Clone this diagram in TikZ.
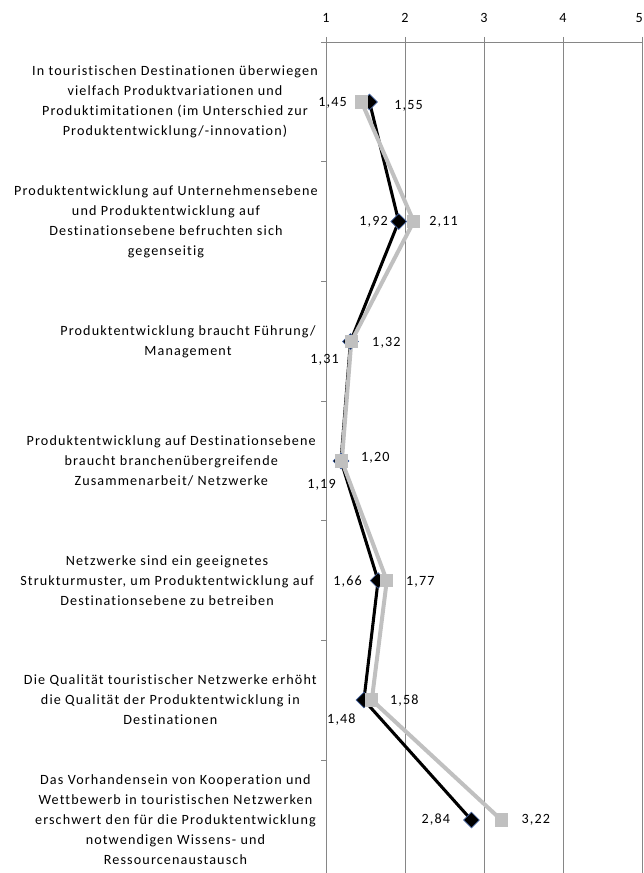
\documentclass[tikz,border=0pt]{standalone}
\usepackage{fontspec}
\setmainfont{Carlito}[LetterSpace=8, Ligatures=NoCommon]
\usepackage{xcolor}
\usepackage{tikz}
\usetikzlibrary{positioning, shapes.geometric}

\definecolor{gridgray}{RGB}{134,134,134}
\definecolor{lightseries}{RGB}{192,192,192}
\definecolor{markeredge}{RGB}{70,100,160}

\begin{document}
\begin{tikzpicture}[
    x=0.75pt, y=-0.75pt,
    grid/.style      = {draw=gridgray, line width=0.7pt},
    catlabel/.style  = {font=\fontsize{10.6}{15}\selectfont, align=center,
                        anchor=east, inner sep=0pt},
    ticklabel/.style = {font=\fontsize{10.6}{12}\selectfont, inner sep=0pt},
    dlabel/.style    = {font=\fontsize{10.6}{12}\selectfont, inner sep=0pt},
    darkline/.style  = {draw=black, line width=2.3pt, line join=round},
    lightline/.style = {draw=lightseries, line width=3pt, line join=round},
    darkmark/.style  = {diamond, fill=black, draw=markeredge, line width=0.5pt,
                        inner sep=0pt, minimum size=12pt},
    lightmark/.style = {rectangle, fill=lightseries, inner sep=0pt,
                        minimum size=10pt}
]
\useasboundingbox (0,0) rectangle (643,873);

% ========= value axis and grid =========
\draw[grid] (321,42) -- (643,42);
\foreach \x in {326, 405, 484, 563, 642}
  \draw[grid] (\x,37) -- (\x,873);
\foreach \x/\v in {326/1, 405/2, 484/3, 563/4}
  \node[ticklabel] (tick\v) at (\x,18) {\v};
\node[ticklabel, anchor=east] (tick5) at (643,18) {5};
\foreach \y in {161.8, 281.5, 401.2, 520.8, 640.5, 760.2}
  \draw[grid] (321,\y) -- (326,\y);

% ========= category labels =========
\node[catlabel] (cat1) at (318,102)
    {In touristischen Destinationen überwiegen\\vielfach Produktvariationen und\\Produktimitationen (im Unterschied zur\\Produktentwicklung/-innovation)};
\node[catlabel] (cat2) at (318,221.5)
    {Produktentwicklung auf Unternehmensebene\\und Produktentwicklung auf\\Destinationsebene befruchten sich\\gegenseitig};
\node[catlabel] (cat3) at (316,341.5)
    {Produktentwicklung braucht Führung/\\Management};
\node[catlabel] (cat4) at (316,461)
    {Produktentwicklung auf Destinationsebene\\braucht branchenübergreifende\\Zusammenarbeit/ Netzwerke};
\node[catlabel] (cat5) at (314,580.5)
    {Netzwerke sind ein geeignetes\\Strukturmuster, um Produktentwicklung auf\\Destinationsebene zu betreiben};
\node[catlabel] (cat6) at (317,700)
    {Die Qualität touristischer Netzwerke erhöht\\die Qualität der Produktentwicklung in\\Destinationen};
\node[catlabel] (cat7) at (316,820)
    {Das Vorhandensein von Kooperation und\\Wettbewerb in touristischen Netzwerken\\erschwert den für die Produktentwicklung\\notwendigen Wissens- und\\Ressourcenaustausch};

% ========= data points =========
\coordinate (dk1) at (369.5,102);   \coordinate (lt1) at (361.6,102);
\coordinate (dk2) at (398.7,221.5); \coordinate (lt2) at (413.7,221.5);
\coordinate (dk3) at (350.5,341.5); \coordinate (lt3) at (351.3,341.5);
\coordinate (dk4) at (341.0,461);   \coordinate (lt4) at (341.8,461);
\coordinate (dk5) at (378.1,580.5); \coordinate (lt5) at (386.8,580.5);
\coordinate (dk6) at (363.9,700);   \coordinate (lt6) at (371.8,700);
\coordinate (dk7) at (471.4,820);   \coordinate (lt7) at (501.4,820);

\draw[darkline]  (dk1) -- (dk2) -- (dk3) -- (dk4) -- (dk5) -- (dk6) -- (dk7);
\draw[lightline] (lt1) -- (lt2) -- (lt3) -- (lt4) -- (lt5) -- (lt6) -- (lt7);

\foreach \p in {1,...,7}
  \node[darkmark] (dkm\p) at (dk\p) {};
\foreach \p in {1,...,7}
  \node[lightmark] (ltm\p) at (lt\p) {};

% ========= value labels =========
\node[dlabel, anchor=east] (lt1lab) at ([xshift=-10.9pt,yshift=-0.8pt]lt1) {1,45};
\node[dlabel, anchor=west] (dk1lab) at ([xshift=18.4pt,yshift=-3pt]dk1)    {1,55};
\node[dlabel, anchor=east] (dk2lab) at ([xshift=-8pt]dk2)                   {1,92};
\node[dlabel, anchor=west] (lt2lab) at ([xshift=11.5pt]lt2)                 {2,11};
\node[dlabel, anchor=west] (lt3lab) at ([xshift=15.5pt,yshift=-1.1pt]lt3)  {1,32};
\node[dlabel, anchor=east] (dk3lab) at ([xshift=-8.6pt,yshift=-13.9pt]dk3) {1,31};
\node[dlabel, anchor=west] (lt4lab) at ([xshift=14.3pt,yshift=2.2pt]lt4)   {1,20};
\node[dlabel, anchor=east] (dk4lab) at ([xshift=-3.8pt,yshift=-18pt]dk4)   {1,19};
\node[dlabel, anchor=east] (dk5lab) at ([xshift=-12pt,yshift=-1.1pt]dk5)   {1,66};
\node[dlabel, anchor=west] (lt5lab) at ([xshift=14.3pt,yshift=-1.1pt]lt5)  {1,77};
\node[dlabel, anchor=west] (lt6lab) at ([xshift=13.5pt,yshift=-0.8pt]lt6)  {1,58};
\node[dlabel, anchor=east] (dk6lab) at ([xshift=-6pt,yshift=-15pt]dk6)     {1,48};
\node[dlabel, anchor=east] (dk7lab) at ([xshift=-15.8pt]dk7)                {2,84};
\node[dlabel, anchor=west] (lt7lab) at ([xshift=15pt]lt7)                   {3,22};

\end{tikzpicture}
\end{document}
